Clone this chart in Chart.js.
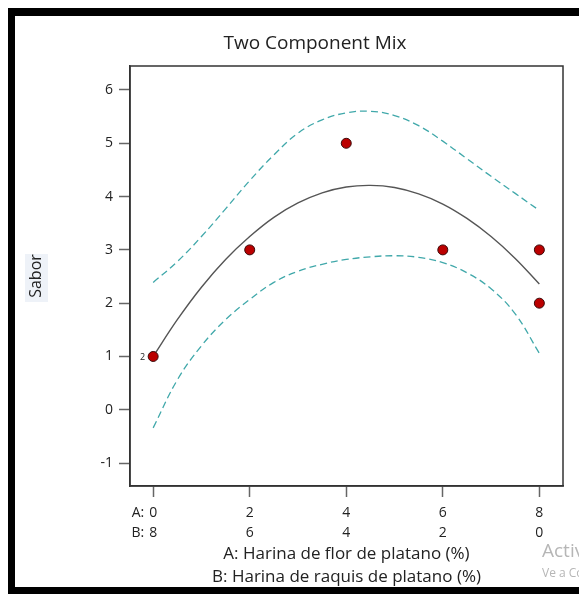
<!DOCTYPE html>
<html>
<head>
<meta charset="utf-8">
<title>Two Component Mix</title>
<script src="https://cdn.jsdelivr.net/npm/chart.js@4.4.1/dist/chart.umd.min.js"></script>
<style>
html, body { margin: 0; padding: 0; background: #fff; overflow: hidden; }
#wrap { position: relative; width: 579px; height: 594px; overflow: hidden; }
#box { position: absolute; left: 0; top: 0; width: 579px; height: 594px; }
#frame { position: absolute; left: 8px; top: 8px; width: 620px; height: 571px; border-top: 8px solid #000; border-left: 7px solid #000; border-bottom: 7px solid #000; pointer-events: none; }
.wm { position: absolute; color: #b6b6b6; font-family: "Open Sans", sans-serif; white-space: nowrap; }
</style>
</head>
<body>
<div id="wrap">
  <div id="box"><canvas id="chart"></canvas></div>
  <div id="frame"></div>
  <div class="wm" style="left:542px;top:537px;font-size:19px;">Activar Windows</div>
  <div class="wm" style="left:542px;top:564px;font-size:12px;">Ve a Configuración para activar Windows.</div>
</div>
<script>
var FONT = '"Open Sans", "Noto Sans", sans-serif';

// A: Harina de flor de platano (%) from 0 to 8
var xValues = [0, 0.5, 1, 1.5, 2, 2.5, 3, 3.5, 4, 4.5, 5, 5.5, 6, 6.5, 7, 7.5, 8];
var fitValues = [1.00, 1.69, 2.30, 2.82, 3.25, 3.61, 3.88, 4.07, 4.18, 4.21, 4.17, 4.05, 3.86, 3.59, 3.25, 2.84, 2.36];
var upperValues = [2.39, 2.78, 3.25, 3.77, 4.30, 4.78, 5.19, 5.44, 5.57, 5.60, 5.52, 5.33, 5.04, 4.71, 4.38, 4.06, 3.74];
var lowerValues = [-0.34, 0.56, 1.20, 1.69, 2.07, 2.39, 2.60, 2.73, 2.82, 2.87, 2.89, 2.86, 2.76, 2.57, 2.27, 1.80, 1.06];

// design points (Sabor)
var pointX = [0, 2, 4, 6, 8, 8];
var pointY = [1, 3, 5, 3, 3, 2];
var pointCount = [2, 1, 1, 1, 1, 1];

var xTicks = [0, 2, 4, 6, 8];
var aLabels = ["0", "2", "4", "6", "8"];
var bLabels = ["8", "6", "4", "2", "0"];
var yTicks = [-1, 0, 1, 2, 3, 4, 5, 6];
var yLabels = ["-1", "0", "1", "2", "3", "4", "5", "6"];

function toXY(xs, ys) {
  var out = [];
  for (var i = 0; i < xs.length; i++) out.push({ x: xs[i], y: ys[i] });
  return out;
}

var extras = {
  id: "extras",
  beforeDraw: function (chart) {
    var ctx = chart.ctx;
    ctx.save();
    ctx.fillStyle = "#eef2f8";
    ctx.fillRect(25, 254, 23, 48);
    ctx.restore();
  },
  afterDraw: function (chart) {
    var ctx = chart.ctx;
    var a = chart.chartArea;
    var xs = chart.scales.x;
    var ys = chart.scales.y;
    ctx.save();
    // plot box
    ctx.strokeStyle = "#333";
    ctx.lineWidth = 1.5;
    ctx.strokeRect(a.left, a.top, a.right - a.left, a.bottom - a.top);
    // title
    ctx.fillStyle = "#222";
    ctx.font = "19px " + FONT;
    ctx.textAlign = "center";
    ctx.textBaseline = "middle";
    ctx.fillText("Two Component Mix", 315, 44);
    // A: / B: prefixes
    ctx.font = "14px " + FONT;
    ctx.textAlign = "right";
    var x0 = xs.getPixelForValue(xTicks[0]) - 9;
    ctx.fillText("A:", x0, 513);
    ctx.fillText("B:", x0, 533);
    // replicate counts
    ctx.font = "9px " + FONT;
    for (var i = 0; i < pointX.length; i++) {
      if (pointCount[i] > 1) {
        ctx.fillText(String(pointCount[i]), xs.getPixelForValue(pointX[i]) - 8, ys.getPixelForValue(pointY[i]) + 1);
      }
    }
    ctx.restore();
  }
};

var gridOpts = { drawOnChartArea: false, drawTicks: true, tickLength: 11, tickColor: "#666", tickWidth: 1.5 };

new Chart(document.getElementById("chart"), {
  type: "scatter",
  data: {
    datasets: [
      {
        label: "Sabor",
        data: toXY(pointX, pointY),
        backgroundColor: "#bb0000",
        borderColor: "#3a0a0a",
        borderWidth: 1,
        pointRadius: 5,
        showLine: false
      },
      {
        label: "Ajuste",
        data: toXY(xValues, fitValues),
        showLine: true,
        borderColor: "#555",
        borderWidth: 1.4,
        pointRadius: 0,
        tension: 0.4
      },
      {
        label: "Superior",
        data: toXY(xValues, upperValues),
        showLine: true,
        borderColor: "#40a8aa",
        borderWidth: 1.3,
        borderDash: [7, 4],
        pointRadius: 0,
        tension: 0.4
      },
      {
        label: "Inferior",
        data: toXY(xValues, lowerValues),
        showLine: true,
        borderColor: "#40a8aa",
        borderWidth: 1.3,
        borderDash: [7, 4],
        pointRadius: 0,
        tension: 0.4
      }
    ]
  },
  options: {
    responsive: true,
    maintainAspectRatio: false,
    animation: false,
    layout: { padding: { top: 66, left: 0, right: 16, bottom: 0 } },
    plugins: { legend: { display: false }, tooltip: { enabled: false }, title: { display: false } },
    scales: {
      x: {
        type: "linear",
        min: -0.48,
        max: 8.49,
        afterBuildTicks: function (s) { s.ticks = xTicks.map(function (v) { return { value: v }; }); },
        afterFit: function (s) { s.height = 108; },
        grid: gridOpts,
        border: { display: true, color: "#333", width: 1.5 },
        ticks: {
          padding: 6,
          color: "#222",
          maxRotation: 0,
          autoSkip: false,
          font: { family: FONT, size: 14, lineHeight: 1.43 },
          callback: function (v, i) { return [aLabels[i], bLabels[i]]; }
        },
        title: {
          display: true,
          text: ["A: Harina de flor de platano (%)", "B: Harina de raquis de platano (%)"],
          color: "#222",
          font: { family: FONT, size: 17, lineHeight: 1.35 },
          padding: { top: 2, bottom: 5 }
        }
      },
      y: {
        type: "linear",
        min: -1.43,
        max: 6.45,
        afterBuildTicks: function (s) { s.ticks = yTicks.map(function (v) { return { value: v }; }); },
        afterFit: function (s) { s.width = 130; },
        grid: gridOpts,
        border: { display: true, color: "#333", width: 1.5 },
        ticks: {
          padding: 6,
          color: "#222",
          font: { family: FONT, size: 14 },
          callback: function (v, i) { return yLabels[i]; }
        },
        title: {
          display: true,
          text: "Sabor",
          color: "#222",
          font: { family: FONT, size: 16, lineHeight: 1.2 },
          padding: { top: 27, bottom: 0 }
        }
      }
    }
  },
  plugins: [extras]
});
</script>
</body>
</html>
